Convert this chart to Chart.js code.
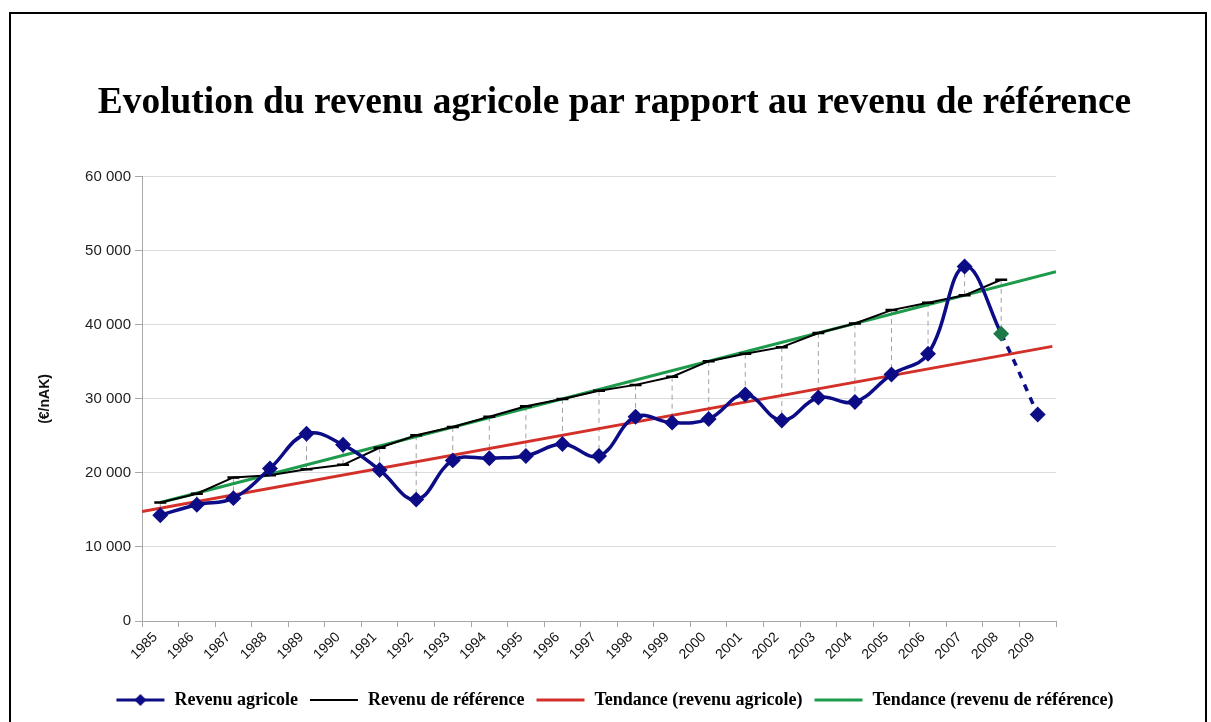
<!DOCTYPE html>
<html>
<head>
<meta charset="utf-8">
<script src="https://cdn.jsdelivr.net/npm/chart.js@4.4.0/dist/chart.umd.min.js"></script>
<style>
  body { margin: 0; background: #fff; }
  #wrap { position: relative; width: 1211px; height: 722px; overflow: hidden; }
  #frame { position: absolute; left: 9px; top: 12px; width: 1194px; height: 730px; border: 2px solid #000; pointer-events: none; }
</style>
</head>
<body>
<div id="wrap">
  <canvas id="chart" width="1211" height="722"></canvas>
  <div id="frame"></div>
</div>
<script>
const years = ['1985','1986','1987','1988','1989','1990','1991','1992','1993','1994','1995','1996','1997',
  '1998','1999','2000','2001','2002','2003','2004','2005','2006','2007','2008','2009'];

// €/nAK
const revenuAgricole = [14300, 15700, 16600, 20600, 25300, 23800, 20400, 16400, 21700, 22000, 22300, 23900, 22300,
  27600, 26800, 27300, 30600, 27100, 30200, 29600, 33300, 36100, 47900, 38800, 27900];
const revenuReference = [16000, 17200, 19400, 19700, 20500, 21100, 23400, 25100, 26200, 27600, 29000, 30000, 31100,
  31900, 33000, 35100, 36100, 37000, 38900, 40200, 42000, 43000, 44000, 46100, null];

// trend lines: end points (category position, value)
const tendanceAgricole = [{x: -0.5, y: 14800}, {x: 24.4, y: 37100}];
const tendanceReference = [{x: 0, y: 16000}, {x: 24.5, y: 47200}];

const yTicks = [0, 10000, 20000, 30000, 40000, 50000, 60000];

const BLUE = '#0c0c86', RED = '#d3302a', GREEN = '#1e9a4c', MARK2008 = '#1d7a48';

function fmt(v) {
  return String(v).replace(/\B(?=(\d{3})+(?!\d))/g, ' ');
}

function sample(color, width, marker) {
  const c = document.createElement('canvas');
  c.width = 50; c.height = 14;
  const g = c.getContext('2d');
  g.strokeStyle = color; g.lineWidth = width;
  g.beginPath(); g.moveTo(1, 7); g.lineTo(49, 7); g.stroke();
  if (marker === 'diamond') {
    g.fillStyle = color;
    g.beginPath(); g.moveTo(25, 1); g.lineTo(31, 7); g.lineTo(25, 13); g.lineTo(19, 7); g.closePath(); g.fill();
  }
  return c;
}

const dropLines = {
  id: 'dropLines',
  beforeDatasetsDraw(chart) {
    const {ctx, scales: {x, y}} = chart;
    ctx.save();
    ctx.strokeStyle = '#a0a0a0';
    ctx.lineWidth = 1;
    ctx.setLineDash([5, 4]);
    revenuReference.forEach((ref, i) => {
      if (ref == null) return;
      const px = x.getPixelForValue(i);
      ctx.beginPath();
      ctx.moveTo(px, y.getPixelForValue(ref));
      ctx.lineTo(px, y.getPixelForValue(revenuAgricole[i]));
      ctx.stroke();
    });
    ctx.restore();
  }
};

const legendItems = [
  {text: 'Revenu agricole', pointStyle: sample(BLUE, 3, 'diamond')},
  {text: 'Revenu de référence', pointStyle: sample('#000', 2)},
  {text: 'Tendance (revenu agricole)', pointStyle: sample(RED, 3)},
  {text: 'Tendance (revenu de référence)', pointStyle: sample(GREEN, 3)}
];

new Chart(document.getElementById('chart'), {
  type: 'line',
  data: {
    labels: years,
    datasets: [
      {
        label: 'Revenu agricole',
        data: revenuAgricole,
        borderColor: BLUE,
        borderWidth: 3.5,
        tension: 0.4,
        pointStyle: 'rectRot',
        pointRadius: 5.5,
        pointBackgroundColor: years.map(y => y === '2008' ? MARK2008 : BLUE),
        pointBorderColor: years.map(y => y === '2008' ? MARK2008 : BLUE),
        segment: {
          borderDash: s => s.p1DataIndex === 24 ? [7, 7] : undefined
        }
      },
      {
        label: 'Revenu de référence',
        data: revenuReference,
        borderColor: '#000',
        borderWidth: 2,
        tension: 0,
        pointStyle: 'line',
        pointRadius: 6,
        pointBorderWidth: 2.5,
        pointBorderColor: '#000'
      },
      {
        label: 'Tendance (revenu agricole)',
        data: tendanceAgricole,
        xAxisID: 'xt',
        borderColor: RED,
        borderWidth: 3,
        pointRadius: 0
      },
      {
        label: 'Tendance (revenu de référence)',
        data: tendanceReference,
        xAxisID: 'xt',
        borderColor: GREEN,
        borderWidth: 3,
        pointRadius: 0
      }
    ]
  },
  options: {
    responsive: false,
    animation: false,
    layout: { padding: { left: 18, right: 0, top: 0, bottom: 3 } },
    plugins: {
      title: {
        display: true,
        text: 'Evolution du revenu agricole par rapport au revenu de référence',
        color: '#000',
        font: { family: 'Liberation Serif', size: 37.4, weight: 'bold' },
        padding: { top: 81, bottom: 51 }
      },
      legend: {
        position: 'bottom',
        labels: {
          usePointStyle: true,
          pointStyleWidth: 50,
          padding: 11,
          color: '#000',
          font: { family: 'Liberation Serif', size: 18, weight: 'bold' },
          generateLabels: () => legendItems.map((it, i) => ({
            text: it.text, pointStyle: it.pointStyle, datasetIndex: i,
            fillStyle: 'rgba(0,0,0,0)', strokeStyle: 'rgba(0,0,0,0)', lineWidth: 0, fontColor: '#000'
          }))
        }
      },
      tooltip: { enabled: false }
    },
    scales: {
      x: {
        type: 'category',
        offset: true,
        grid: { offset: true, drawOnChartArea: false, drawTicks: true, tickLength: 6, color: '#a8a8a8' },
        border: { color: '#a8a8a8' },
        ticks: {
          color: '#111',
          font: { family: 'Liberation Sans', size: 14 },
          maxRotation: 45, minRotation: 45, padding: 2, labelOffset: -5, autoSkip: false
        },
        afterFit: s => { s.height = 59; }
      },
      xt: {
        type: 'linear',
        display: false,
        min: -0.5,
        max: 24.5
      },
      y: {
        min: 0,
        max: 60000,
        afterBuildTicks: s => { s.ticks = yTicks.map(v => ({value: v})); },
        grid: { color: '#dcdcdc', tickColor: '#a8a8a8', tickLength: 7 },
        border: { color: '#a8a8a8' },
        ticks: {
          color: '#222',
          font: { family: 'Liberation Sans', size: 15 },
          padding: 4,
          callback: v => fmt(v)
        },
        title: {
          display: true,
          text: '(€/nAK)',
          color: '#111',
          font: { family: 'Liberation Sans', size: 14, weight: 'bold' },
          padding: { top: 19, bottom: 0 }
        },
        afterFit: s => { s.width = 124; }
      },
      yr: {
        position: 'right',
        display: true,
        grid: { display: false },
        border: { display: false },
        ticks: { display: false },
        afterFit: s => { s.width = 155; }
      }
    }
  },
  plugins: [dropLines]
});
</script>
</body>
</html>
